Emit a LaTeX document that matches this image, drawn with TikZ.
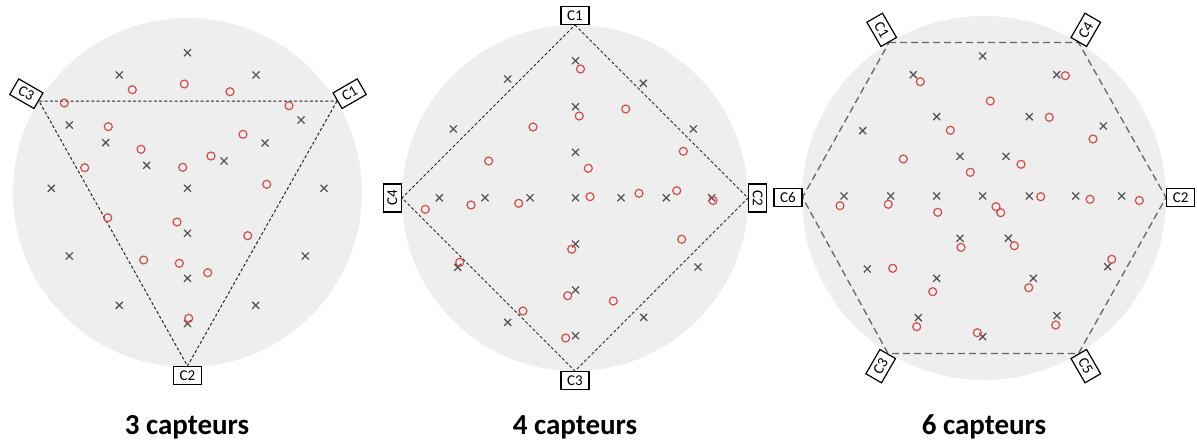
\documentclass[tikz,border=0pt]{standalone}
\usepackage{fontspec}
\setmainfont{Carlito}
\usetikzlibrary{positioning}

\definecolor{zonegris}{RGB}{238,238,238}
\definecolor{croixgris}{RGB}{85,85,85}
\definecolor{rouge}{RGB}{215,75,75}

\begin{document}
\begin{tikzpicture}[
    x=1pt, y=-1pt,
    zone/.style={circle, fill=zonegris, inner sep=0pt},
    capteur/.style={draw, line width=1.2pt, fill=white, font=\fontsize{15}{15}\selectfont,
        minimum width=28pt, minimum height=18pt, inner sep=0pt},
    liaison/.style={line width=1pt, black!85, dash pattern=on 3pt off 2.2pt},
    liaisonhex/.style={line width=1.3pt, black!60, dash pattern=on 7pt off 4pt},
    croix/.style={line width=1.3pt, croixgris},
    rond/.style={line width=1.2pt, rouge},
    titre/.style={font=\fontsize{29}{29}\selectfont\bfseries}
]
    \useasboundingbox (0,0) rectangle (1197,444);

    % zones
    \node[zone, minimum size=349pt] (z3) at (187.5,192.5) {};
    \node[zone, minimum size=346pt] (z4) at (575,198) {};
    \node[zone, minimum size=364pt] (z6) at (984,198) {};

    % 3 capteurs
    \coordinate (a1) at (337,101);
    \coordinate (a2) at (187.5,366);
    \coordinate (a3) at (39,101);
    \draw[liaison] (a1) -- (a2) -- (a3) -- cycle;
    \foreach \x/\y in {187.5/52.7, 119.3/75, 256/75, 69.3/125, 301/120, 105.7/142.7,
        265/143, 146.7/165.3, 224/161, 51.3/188.3, 187.5/188.3, 324/188.3,
        187.5/233.3, 69.3/256, 305.3/256, 187.5/278.3, 119.3/305.3, 255.7/305.3, 187.5/323.5}
        \draw[croix] (\x,\y) +(-3.5,-3.5) -- +(3.5,3.5) +(-3.5,3.5) -- +(3.5,-3.5);
    \foreach \x/\y in {184.3/84, 132.3/89.7, 230/91.7, 64.3/103, 289/105.7, 108.3/126.7,
        243/134.3, 141/149.3, 211/156, 84.7/167.7, 182.7/167.3, 266.7/184.3,
        107.7/217.7, 177/222, 247.7/235.7, 143.7/260, 179.3/263.3, 207.7/272.7, 188.7/318.3}
        \draw[rond] (\x,\y) circle[radius=4];
    \node[capteur, rotate=30, anchor=west] (c31) at (a1) {C1};
    \node[capteur, anchor=north] (c32) at (a2) {C2};
    \node[capteur, rotate=-30, anchor=east] (c33) at (a3) {C3};
    \node[titre] (t3) at (187,427) {3 capteurs};

    % 4 capteurs
    \coordinate (b1) at (575,25);
    \coordinate (b2) at (748,198);
    \coordinate (b3) at (575,371);
    \coordinate (b4) at (402,198);
    \draw[liaison] (b1) -- (b2) -- (b3) -- (b4) -- cycle;
    \foreach \x/\y in {575.5/60.7, 507.7/79, 643.3/83.3, 575.5/106.7, 453.3/129, 693.3/129,
        575.5/152.3, 439.3/197.8, 485/197.8, 530/197.8, 575.5/197.8, 621/197.8, 666.3/197.8,
        711.7/197.8, 575.5/244, 457.7/267.3, 698/267, 575.5/290, 507.7/322.3, 643.7/317.3, 575.5/335.7}
        \draw[croix] (\x,\y) +(-3.5,-3.5) -- +(3.5,3.5) +(-3.5,3.5) -- +(3.5,-3.5);
    \foreach \x/\y in {580.5/69, 579.2/116, 533/127, 488.7/161, 625.7/109, 683.3/151.3,
        588.3/168.3, 590/196.7, 639/193.3, 676.7/190.7, 713/200.5, 425.3/209.3, 471/205,
        518.7/203.3, 571.7/249.2, 459.7/262.3, 567.7/295.7, 523/311, 565.7/338, 681.7/239.3, 613.3/301}
        \draw[rond] (\x,\y) circle[radius=4];
    \node[capteur, anchor=south] (c41) at (b1) {C1};
    \node[capteur, rotate=-90, anchor=south] (c42) at (b2) {C2};
    \node[capteur, anchor=north] (c43) at (b3) {C3};
    \node[capteur, rotate=90, anchor=south] (c44) at (b4) {C4};
    \node[titre] (t4) at (575,427) {4 capteurs};

    % 6 capteurs
    \coordinate (h1) at (889,42.5);
    \coordinate (h4) at (1078.5,42.5);
    \coordinate (h2) at (1166,197.5);
    \coordinate (h5) at (1078.5,353.5);
    \coordinate (h3) at (888,353.5);
    \coordinate (h6) at (802.5,197.5);
    \draw[liaisonhex] (h1) -- (h4) -- (h2) -- (h5) -- (h3) -- (h6) -- cycle;
    \foreach \x/\y in {982.7/56, 913.3/74.7, 1056.7/74.7, 936.7/116.7, 1029.3/116.7, 862.7/130.7,
        1103.3/126, 960/156.3, 1006/156.3, 844/196, 890.7/196, 936.7/196, 982.7/196, 1029.3/196,
        1075.7/196, 1121.7/196, 960/238.3, 1008.3/238.3, 867.3/269, 1107.7/266.7, 936.7/278.3,
        1033.3/278.3, 918.3/317.7, 1057/315.7, 982.7/336.7}
        \draw[croix] (\x,\y) +(-3.5,-3.5) -- +(3.5,3.5) +(-3.5,3.5) -- +(3.5,-3.5);
    \foreach \x/\y in {920.3/81.7, 990.3/101, 950.3/130.3, 903.3/159, 970.3/172.3, 1065.3/75.7,
        1049.3/117.3, 1093/139, 1021/164.3, 1040.7/196.7, 1090/199.3, 1139.3/200.5, 840/205.7,
        888.3/204.3, 937.7/212.3, 961/247.3, 892.7/268.3, 932.7/291.7, 916.7/326.7, 977.3/332.7,
        996/206.7, 1000.7/212.7, 1014.3/245.7, 1111.7/259.3, 1028.7/287.7, 1055.7/325}
        \draw[rond] (\x,\y) circle[radius=4];
    \node[capteur, rotate=-60, anchor=east] (c61) at (h1) {C1};
    \node[capteur, anchor=west] (c62) at (h2) {C2};
    \node[capteur, rotate=60, anchor=east] (c63) at (h3) {C3};
    \node[capteur, rotate=60, anchor=west] (c64) at (h4) {C4};
    \node[capteur, rotate=-60, anchor=west] (c65) at (h5) {C5};
    \node[capteur, anchor=east] (c66) at (h6) {C6};
    \node[titre] (t6) at (984,427) {6 capteurs};
\end{tikzpicture}
\end{document}
